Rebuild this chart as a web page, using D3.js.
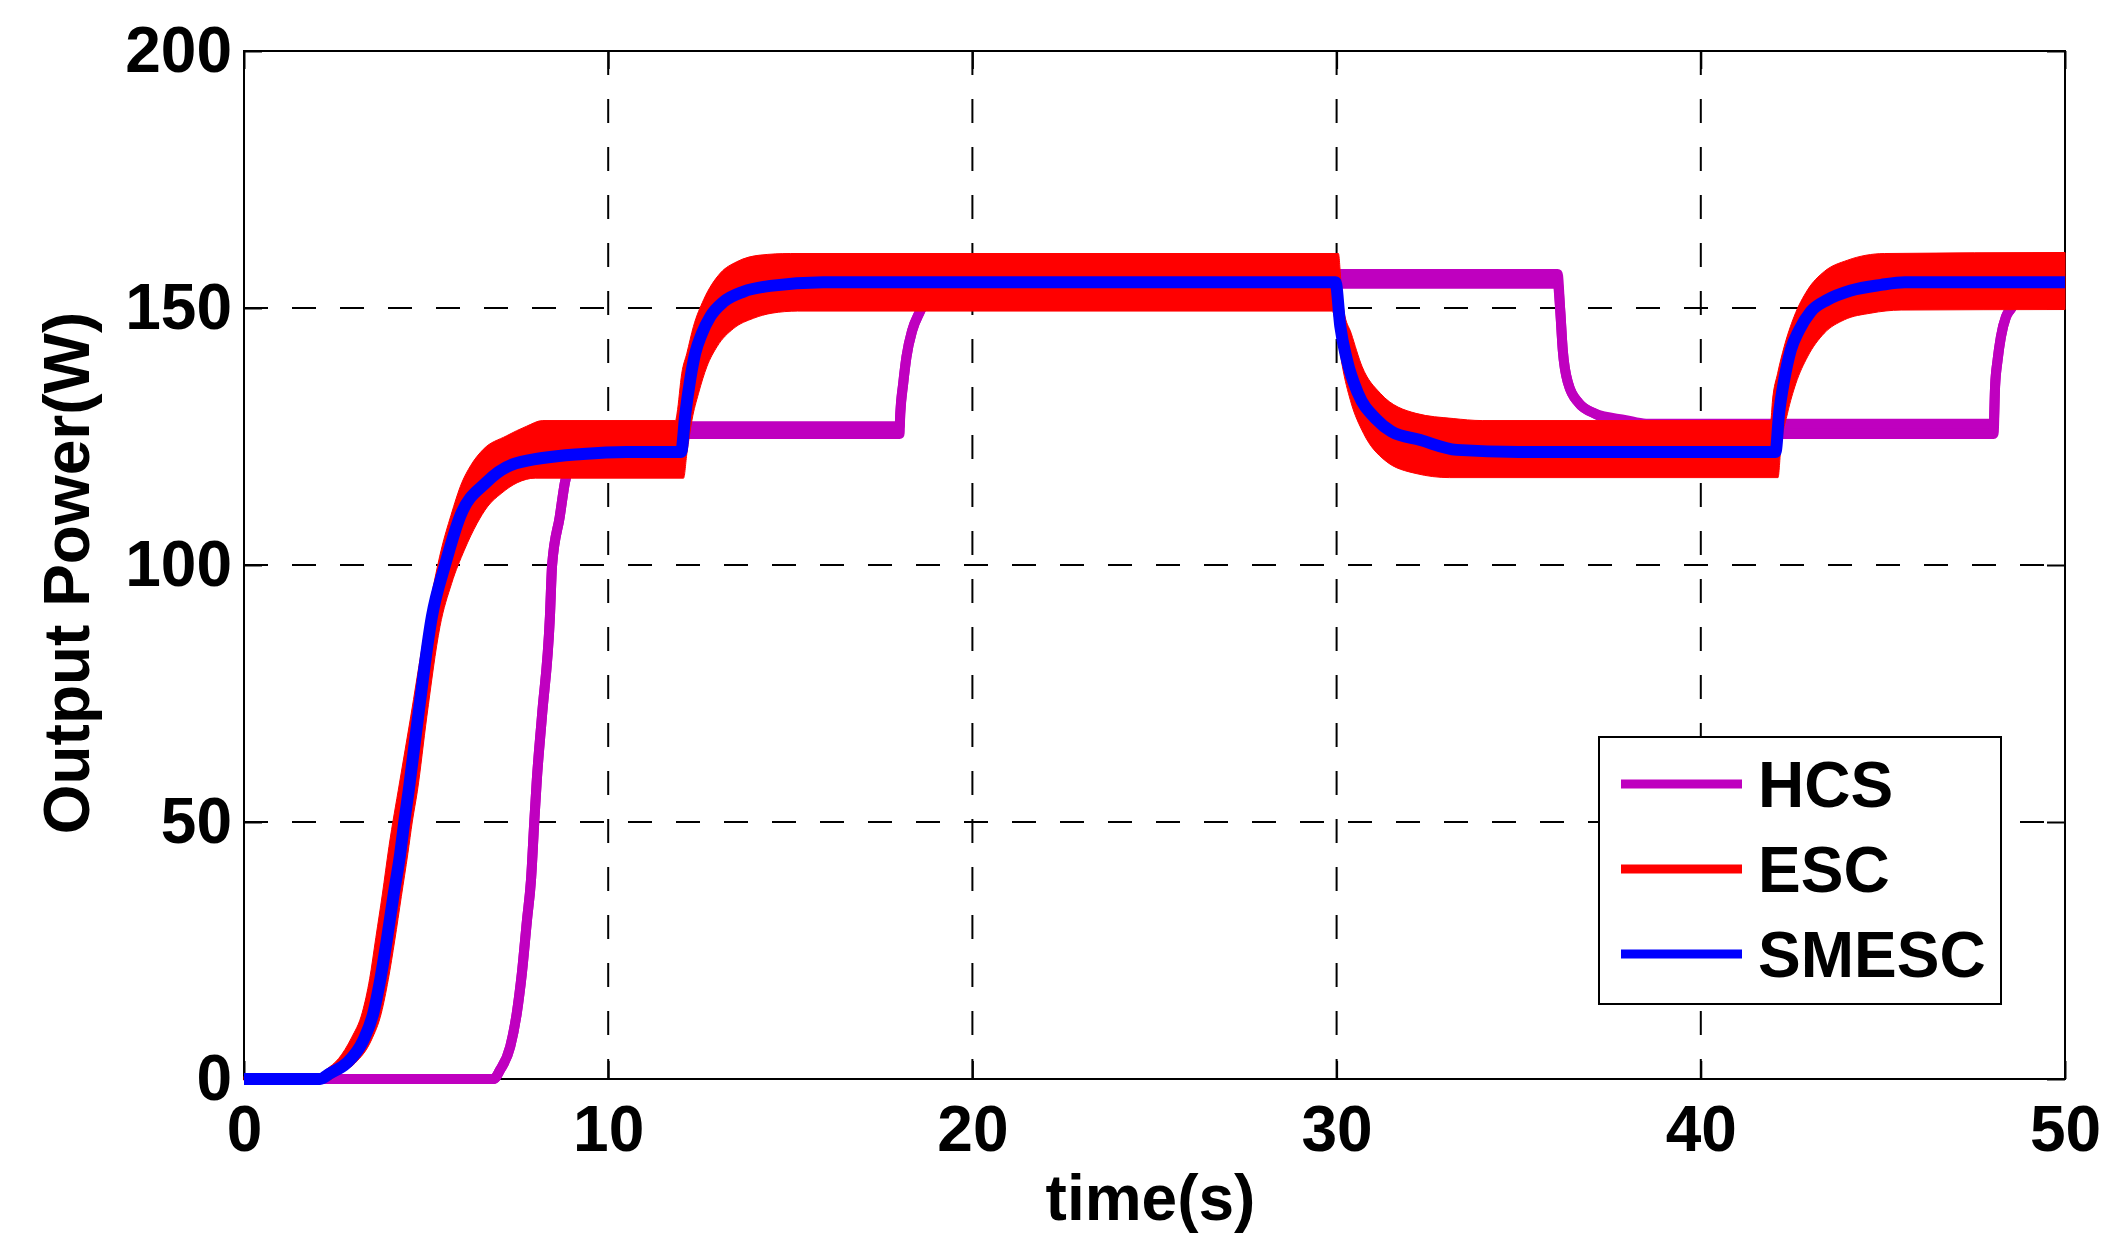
<!DOCTYPE html>
<html lang="en"><head><meta charset="utf-8">
<title>Output Power</title>
<script src="https://cdnjs.cloudflare.com/ajax/libs/d3/7.8.5/d3.min.js"></script>
<style>
  body{ margin:0; background:#fff; }
  .chart text{
    font-family: "Liberation Sans", Arial, sans-serif;
    font-weight: bold;
    font-size: 64px;
    fill: #000;
  }
  .grid line{ stroke:#000; stroke-width:2; stroke-dasharray:24,24; }
  .ticks line{ stroke:#000; stroke-width:2; }
</style>
</head>
<body>
<svg class="chart" width="2122" height="1250"></svg>
<script>
// axis ticks
var xTicks = [0, 10, 20, 30, 40, 50]
var yTicks = [0, 50, 100, 150, 200]

// HCS: ripple band (upper / lower centre of the trace)
var hcsTime = [0, 6.85, 7.03, 7.31, 7.49, 7.63, 7.77, 7.88, 7.97, 8.04,
  8.18, 8.4, 8.46, 8.67, 8.81, 9.0, 9.3, 9.8, 18.0, 18.02,
  18.1, 18.19, 18.35, 18.54, 18.8, 19.3, 19.6, 36.07, 36.14, 36.21,
  36.36, 36.65, 37.08, 37.94, 38.5, 48.04, 48.08, 48.15, 48.24, 48.38,
  48.52, 48.8, 49.3, 49.6, 50]
var hcsHigh = [0, 0, 1.75, 6.3, 12.8, 20.6, 30.9, 38.7, 50, 58.2,
  70.5, 90, 100, 109.4, 116, 121, 124.5, 127, 127, 129.5,
  135.3, 140.5, 145.7, 149, 152.5, 155, 156.6, 156.6, 149.6, 141.8,
  135.3, 131.5, 129.5, 128.2, 127.5, 127.5, 134.7, 139.9, 144.4, 148.3,
  149.9, 153, 155, 156.6, 156.6]
var hcsLow = [0, 0, 1.75, 6.3, 12.8, 20.6, 30.9, 38.7, 50, 58.2,
  70.5, 90, 100, 109.4, 116, 121, 124.5, 125.5, 125.5, 129.5,
  135.3, 140.5, 145.7, 149, 152.5, 154.7, 154.7, 154.7, 149.6, 141.8,
  135.3, 131.5, 129.5, 127, 125.5, 125.5, 134.7, 139.9, 144.4, 148.3,
  149.9, 153, 154.7, 154.7, 154.7]

// ESC: outer edges of the oscillation band [time, power]
var escUpper = [[0, 0.5], [2.0, 0.5], [2.25, 1.8], [2.6, 4], [2.95, 8], [3.25, 13], [3.45, 19.5],
  [3.62, 27.5], [3.8, 36], [3.98, 45.2], [4.27, 57.6], [4.58, 70.6], [4.88, 83.6], [5.22, 96.6],
  [5.42, 103.1], [5.68, 109.6], [5.98, 116], [6.22, 119.3], [6.57, 122.5], [7.2, 125.1],
  [7.76, 127], [8.2, 128.1], [11.85, 128.1], [11.89, 129.5], [12.02, 137.3], [12.16, 141.2],
  [12.34, 146.4], [12.62, 151.6], [13.08, 156.8], [13.53, 159], [14.18, 160.3], [15.0, 160.6],
  [30.05, 160.6], [30.12, 155], [30.2, 149.5], [30.4, 145.1], [30.7, 138.6], [31.2, 133.4],
  [32.18, 129.5], [33.2, 128.5], [34.0, 128.1], [41.92, 128.1], [41.97, 132.1], [42.11, 137.3],
  [42.29, 142.5], [42.56, 148.3], [42.93, 153.5], [43.39, 157.1], [44.03, 159.3], [45.04, 160.6],
  [50, 160.8]]
var escLower = [[0, -0.3], [2.3, -0.3], [2.6, 1], [3.05, 3.1], [3.5, 7.6], [3.77, 12.8],
  [3.96, 19.3], [4.14, 27], [4.32, 35.5], [4.5, 43.9], [4.62, 50], [4.76, 56], [5.02, 70.5],
  [5.38, 88], [5.7, 96.4], [6.05, 102.9], [6.4, 108.1], [6.68, 111.3], [7.06, 113.9],
  [7.5, 116], [8.0, 116.9], [12.07, 116.9], [12.16, 121.7], [12.3, 128.2], [12.48, 133.4],
  [12.71, 138.6], [12.99, 142.5], [13.44, 146], [13.99, 148], [14.5, 149], [15.2, 149.4],
  [29.88, 149.4], [30.02, 145], [30.16, 138.6], [30.38, 132], [30.74, 125.6], [31.32, 120.4],
  [32.18, 117.8], [33.1, 117], [42.12, 117], [42.2, 123], [42.38, 129.5], [42.61, 135.3],
  [42.93, 140.5], [43.39, 145.1], [43.94, 147.7], [44.67, 149], [45.5, 149.6], [50, 149.7]]

// SMESC
var smescTime = [0, 2.09, 2.36, 2.82, 3.28, 3.55, 3.74, 3.92, 4.10, 4.29,
  4.4, 4.52, 4.78, 5.16, 5.52, 5.93, 6.64, 7.47, 9.3, 10.5,
  12.0, 12.12, 12.25, 12.39, 12.57, 12.8, 13.17, 13.72, 14.45, 15.9,
  29.97, 30.1, 30.28, 30.58, 31.1, 31.5, 32.3, 33.3, 35.0, 42.05,
  42.15, 42.29, 42.47, 42.7, 43.02, 43.48, 44.12, 44.95, 45.6, 50]
var smescPower = [0, 0, 1.1, 3.1, 7.6, 12.8, 19.3, 27, 35.5, 43.9,
  50, 56, 70.5, 90, 100, 109.4, 116, 119.8, 121.6, 122,
  122, 129.5, 136, 141.2, 145, 148.3, 151.2, 153.2, 154.3, 155,
  155, 146.5, 140, 133.5, 128.3, 126, 124.3, 122.4, 122, 122,
  129.5, 136, 141.8, 145.7, 149.3, 151.6, 153.4, 154.5, 155, 155]

var seriesNames = ["HCS", "ESC", "SMESC"]
var seriesColors = ["#BF00BF", "#FF0000", "#0000FF"]

drawChart()

function drawChart() {
  var svg = d3.select('.chart')
  var pLeft = 244, pRight = 2065, pTop = 51, pBottom = 1079

  var x = d3.scaleLinear().domain([0, 50]).range([pLeft, pRight])
  var y = d3.scaleLinear().domain([0, 200]).range([pBottom, pTop])

  svg.append("rect").attr("width", 2122).attr("height", 1250).attr("fill", "#fff")

  // dashed grid
  var grid = svg.append("g").attr("class", "grid")
  grid.selectAll(".gx").data(xTicks.slice(1, -1)).enter().append("line")
    .attr("x1", function(d) { return x(d) }).attr("x2", function(d) { return x(d) })
    .attr("y1", pTop).attr("y2", pBottom)
  grid.selectAll(".gy").data(yTicks.slice(1, -1)).enter().append("line")
    .attr("x1", pLeft).attr("x2", pRight)
    .attr("y1", function(d) { return y(d) }).attr("y2", function(d) { return y(d) })

  // inward ticks on all four sides
  function ticks(axis, tx, ty) {
    var g = svg.append("g").attr("class", "ticks")
      .attr("transform", "translate(" + tx + "," + ty + ")")
      .call(axis)
    g.select(".domain").remove()
    g.selectAll("text").remove()
  }
  ticks(d3.axisBottom(x).tickValues(xTicks).tickSize(-18), 0, pBottom)
  ticks(d3.axisTop(x).tickValues(xTicks).tickSize(-18), 0, pTop)
  ticks(d3.axisLeft(y).tickValues(yTicks).tickSize(-18), pLeft, 0)
  ticks(d3.axisRight(y).tickValues(yTicks).tickSize(-18), pRight, 0)

  svg.append("rect")
    .attr("x", pLeft).attr("y", pTop)
    .attr("width", pRight - pLeft).attr("height", pBottom - pTop)
    .attr("fill", "none").attr("stroke", "#000").attr("stroke-width", 2)

  // tick labels
  var xl = svg.append("g").attr("transform", "translate(0," + pBottom + ")")
    .call(d3.axisBottom(x).tickValues(xTicks).tickSize(0).tickPadding(27).tickFormat(d3.format("d")))
  xl.select(".domain").remove()
  var yl = svg.append("g").attr("transform", "translate(" + pLeft + ",0)")
    .call(d3.axisLeft(y).tickValues(yTicks).tickSize(0).tickPadding(12).tickFormat(d3.format("d")))
  yl.select(".domain").remove()
  svg.selectAll(".tick text").attr("font-size", null).attr("font-family", null)

  // axis titles
  svg.append("text")
    .attr("x", (pLeft + pRight) / 2 - 4).attr("y", 1220)
    .attr("text-anchor", "middle")
    .text("time(s)")
  svg.append("text")
    .attr("transform", "translate(89,573) rotate(-90)")
    .attr("text-anchor", "middle")
    .text("Output Power(W)")

  var curve = d3.curveMonotoneX

  // HCS
  var hcsData = hcsTime.map(function(t, i) { return {t: t, hi: hcsHigh[i], lo: hcsLow[i]} })
  svg.append("path").datum(hcsData)
    .attr("fill", seriesColors[0])
    .attr("d", d3.area().curve(curve).x(function(d) { return x(d.t) })
      .y0(function(d) { return y(d.lo) }).y1(function(d) { return y(d.hi) }))
  ;["hi", "lo"].forEach(function(k) {
    svg.append("path").datum(hcsData)
      .attr("fill", "none").attr("stroke", seriesColors[0])
      .attr("stroke-width", 10).attr("stroke-linejoin", "round")
      .attr("d", d3.line().curve(curve).x(function(d) { return x(d.t) }).y(function(d) { return y(d[k]) }))
  })

  // ESC band: upper edge forwards, lower edge backwards
  var pairLine = d3.line().curve(curve).x(function(d) { return x(d[0]) }).y(function(d) { return y(d[1]) })
  var upperPath = pairLine(escUpper)
  var lowerPath = pairLine(escLower.slice().reverse()).replace(/^M/, "L")
  svg.append("path")
    .attr("fill", seriesColors[1])
    .attr("stroke", seriesColors[1]).attr("stroke-width", 1)
    .attr("d", upperPath + lowerPath + "Z")

  // SMESC
  var smescData = smescTime.map(function(t, i) { return [t, smescPower[i]] })
  svg.append("path").datum(smescData)
    .attr("fill", "none").attr("stroke", seriesColors[2])
    .attr("stroke-width", 12).attr("stroke-linejoin", "round")
    .attr("d", pairLine)

  // legend
  var legend = svg.append("g")
  legend.append("rect")
    .attr("x", 1599).attr("y", 737).attr("width", 402).attr("height", 267)
    .attr("fill", "#fff").attr("stroke", "#000").attr("stroke-width", 2)
  seriesNames.forEach(function(name, i) {
    var ly = 784 + i * 85
    legend.append("line")
      .attr("x1", 1621).attr("x2", 1742).attr("y1", ly).attr("y2", ly)
      .attr("stroke", seriesColors[i]).attr("stroke-width", 9)
    legend.append("text")
      .attr("x", 1758).attr("y", ly).attr("dy", "0.36em")
      .text(name)
  })
}
</script>
</body></html>
